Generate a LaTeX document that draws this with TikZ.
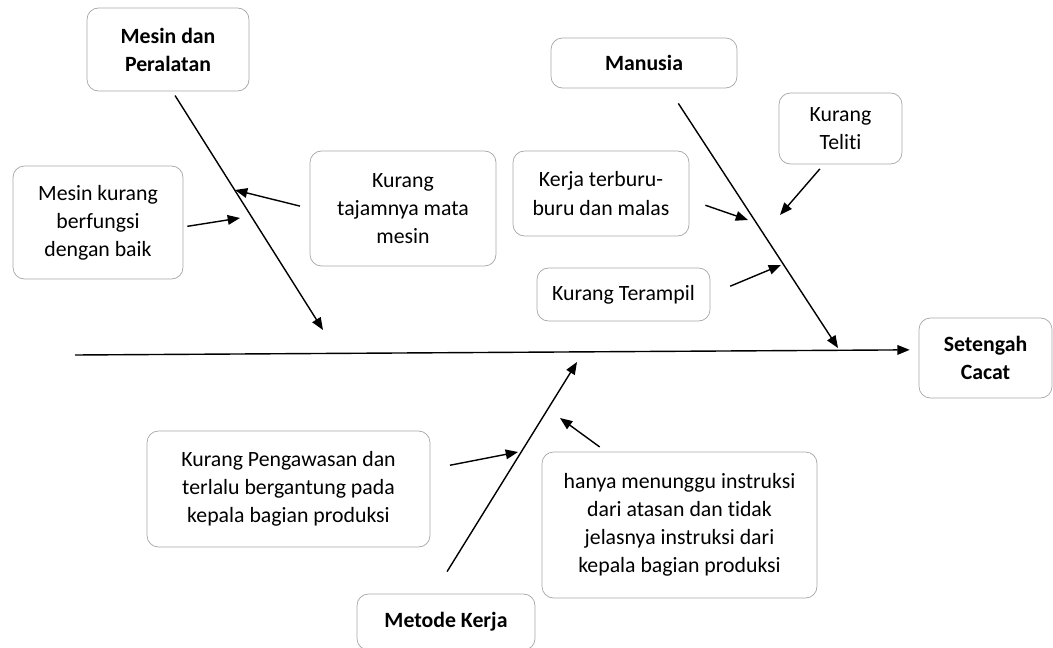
\documentclass[tikz,border=0pt]{standalone}
\usepackage{fontspec}
\setmainfont{Carlito}[Ligatures=NoCommon]
\usetikzlibrary{arrows.meta,positioning}

\begin{document}
\begin{tikzpicture}[x=0.02cm, y=-0.02cm,
  box/.style={draw=black!35, rounded corners=6.5pt, align=center, inner sep=2pt,
              font=\fontsize{12.4}{16}\selectfont},
  cat/.style={box, font=\fontsize{12.4}{16}\selectfont\bfseries},
  bone/.style={line width=0.8pt, -{Triangle[length=7pt,width=5.5pt]}},
]
\useasboundingbox (0,0) rectangle (1053,648);
\clip (0,0) rectangle (1053,648);

\node[cat, minimum width=3.24cm, minimum height=1.66cm] (mesin) at (168,49.5) {Mesin dan\\Peralatan};
\node[cat, minimum width=3.72cm, minimum height=1.0cm] (manusia) at (644,63) {Manusia};
\node[cat, minimum width=3.56cm, minimum height=1.12cm] (metode) at (446,622) {Metode Kerja};
\node[cat, minimum width=2.66cm, minimum height=1.6cm] (cacat) at (985.5,358) {Setengah\\Cacat};

\node[box, minimum width=3.4cm, minimum height=2.26cm] (mkb) at (98,222.5) {Mesin kurang\\berfungsi\\dengan baik};
\node[box, minimum width=3.72cm, minimum height=2.3cm] (tajam) at (403,208.5) {Kurang\\tajamnya mata\\mesin};
\node[box, minimum width=3.52cm, minimum height=1.7cm] (kerja) at (601,193.5) {Kerja terburu-\\buru dan malas};
\node[box, minimum width=2.46cm, minimum height=1.42cm] (teliti) at (840.5,128.5) {Kurang\\Teliti};
\node[box, minimum width=3.46cm, minimum height=1.06cm] (terampil) at (623.5,294.5) {Kurang Terampil};
\node[box, minimum width=5.66cm, minimum height=2.32cm] (awas) at (288.5,489) {Kurang Pengawasan dan\\terlalu bergantung pada\\kepala bagian produksi};
\node[box, minimum width=5.5cm, minimum height=2.92cm] (tunggu) at (679.5,525) {hanya menunggu instruksi\\dari atasan dan tidak\\jelasnya instruksi dari\\kepala bagian produksi};

\coordinate (st) at (75,355);
\coordinate (mh) at (323,330);
\coordinate (nh) at (838,348);
\coordinate (kh) at (577,362);
\coordinate (a1) at (240,218);
\coordinate (a2) at (235,190);
\coordinate (b1) at (748,220);
\coordinate (b2) at (780,215);
\coordinate (b3) at (781,265);
\coordinate (c1) at (518,452);
\coordinate (c2) at (560,418);

\draw[bone, shorten >=0.18cm] (st) -- (cacat.173);
\draw[bone, shorten <=0.1cm] (mesin.-84) -- (mh);
\draw[bone, shorten <=0.36cm] (manusia.-46) -- (nh);
\draw[bone, shorten <=0.52cm] (metode.114) -- (kh);

\draw[bone, shorten <=0.08cm] (mkb.-3) -- (a1);
\draw[bone, shorten <=0.2cm] (tajam.west) -- (a2);
\draw[bone, shorten <=0.34cm] (kerja.-4) -- (b1);
\draw[bone, shorten <=0.12cm] (teliti.245) -- (b2);
\draw[bone, shorten <=0.43cm] (terampil.east) -- (b3);
\draw[bone, shorten <=0.4cm] (awas.8) -- (c1);
\draw[bone, shorten <=0.16cm] (tunggu.135) -- (c2);

\end{tikzpicture}
\end{document}
